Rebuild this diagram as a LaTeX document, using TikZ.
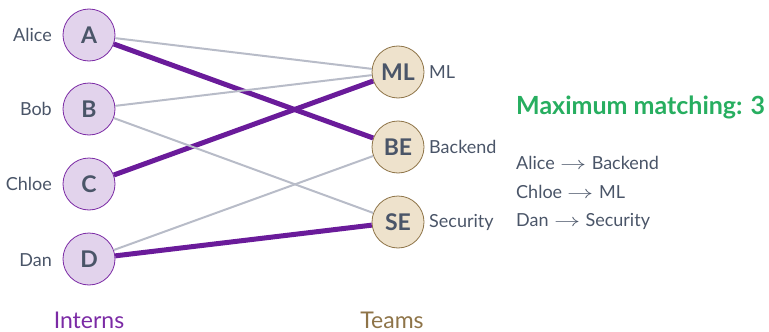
\documentclass[tikz,border=0pt]{standalone}
\usepackage{fontspec}
\usepackage{unicode-math}
\setmainfont{Lato}
\setmathfont{Latin Modern Math}
\definecolor{txt}{HTML}{4A5568}
\definecolor{pfill}{HTML}{E2D3EC}
\definecolor{pdraw}{HTML}{7B2AA5}
\definecolor{tfill}{HTML}{EEE2CC}
\definecolor{tdraw}{HTML}{8E7448}
\definecolor{pedge}{HTML}{6A1B9A}
\definecolor{gedge}{HTML}{B8BCC8}
\definecolor{grn}{HTML}{27AE60}
\definecolor{teamc}{HTML}{8E7448}
\newcommand{\myarr}{\hspace{0.3em}\scalebox{1.45}[1]{$\rightarrow$}\hspace{0.3em}}
\begin{document}
\begin{tikzpicture}[x=1pt,y=-1pt,
  intern/.style={circle,draw=pdraw,fill=pfill,line width=0.8pt,minimum size=52pt,inner sep=0pt,text=txt,font=\fontsize{23}{26}\selectfont\bfseries},
  team/.style={circle,draw=tdraw,fill=tfill,line width=0.8pt,minimum size=52pt,inner sep=0pt,text=txt,font=\fontsize{23}{26}\selectfont\bfseries},
  lbl/.style={text=txt,font=\fontsize{18}{21}\selectfont,inner sep=0pt},
  match/.style={draw=pedge,line width=5pt},
  other/.style={draw=gedge,line width=2pt},
]
\useasboundingbox (0,0) rectangle (769,332);
\node[intern] (A) at (89,35) {A};
\node[intern] (B) at (89,109) {B};
\node[intern] (C) at (89,184) {C};
\node[intern] (D) at (89,259) {D};
\node[team] (ML) at (398,72) {ML};
\node[team] (BE) at (398,147) {BE};
\node[team] (SE) at (398,222) {SE};
\node[lbl,anchor=east] (la) at (52,35) {Alice};
\node[lbl,anchor=east] (lb) at (52,109) {Bob};
\node[lbl,anchor=east] (lc) at (52,184) {Chloe};
\node[lbl,anchor=east] (ld) at (52,260) {Dan};
\node[lbl,anchor=west] (lml) at (429,72) {ML};
\node[lbl,anchor=west] (lbe) at (429,147) {Backend};
\node[lbl,anchor=west] (lse) at (429,222) {Security};
\draw[match] (A) -- (BE);
\draw[match] (C) -- (ML);
\draw[match] (D) -- (SE);
\draw[other] (A) -- (ML);
\draw[other] (B) -- (ML);
\draw[other] (B) -- (SE);
\draw[other] (D) -- (BE);
\node[text=pdraw,font=\fontsize{23}{26}\selectfont,anchor=base,inner sep=0pt] (ti) at (89,328) {Interns};
\node[text=teamc,font=\fontsize{23}{26}\selectfont,anchor=base,inner sep=0pt] (tt) at (392,328) {Teams};
\node[anchor=west,text=grn,font=\fontsize{25}{28}\selectfont\bfseries,inner sep=0pt] (mm) at (516,107) {Maximum matching: 3};
\node[lbl,anchor=west] (m1) at (516,163) {Alice\myarr Backend};
\node[lbl,anchor=west] (m2) at (516,192) {Chloe\myarr ML};
\node[lbl,anchor=west] (m3) at (516,221) {Dan\myarr Security};
\end{tikzpicture}
\end{document}
